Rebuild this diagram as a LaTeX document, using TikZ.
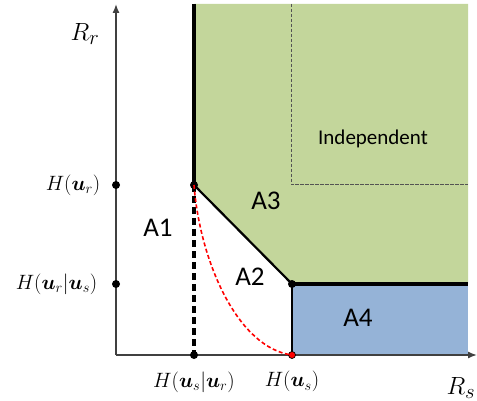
\documentclass[tikz,border=0pt]{standalone}
\usepackage{amsmath}
\usepackage{bm}
\usepackage{fontspec}
\setsansfont{Carlito}
\usetikzlibrary{positioning,arrows.meta}
\definecolor{regiongreen}{RGB}{195,214,155}
\definecolor{regionblue}{RGB}{149,179,215}
\definecolor{axisgray}{RGB}{64,64,64}

\begin{document}
\begin{tikzpicture}[x=1pt,y=-1pt,
	dot/.style={circle,fill=black,inner sep=0pt,minimum size=8pt},
	areatext/.style={font=\sffamily\fontsize{27}{27}\selectfont},
	ticktext/.style={font=\fontsize{21}{21}\selectfont},
	axistext/.style={font=\fontsize{28}{28}\selectfont},
	boundary/.style={line width=3.2pt}]
	\useasboundingbox (0,0) rectangle (477,401);
	%Regions
	\fill[regiongreen] (194,4) -- (468,4) -- (468,284) -- (292,284) -- (194,185) -- cycle;
	\fill[regionblue] (292,284) rectangle (468,355);
	%Independent corner
	\draw[axisgray!90,line width=1pt,dash pattern=on 3.5pt off 1.5pt] (291,4) -- (291,185) -- (468,185);
	%Axes
	\coordinate (O) at (116,355);
	\coordinate (ytop) at (116,4);
	\coordinate (xend) at (477,355);
	\draw[axisgray,line width=1.4pt,-{Latex[length=9pt,width=7pt]}] (O) -- (ytop);
	\draw[axisgray,line width=1.4pt,-{Latex[length=9pt,width=7pt]}] (O) -- (xend);
	%Points
	\node[dot] (Hur) at (116,185) {};
	\node[dot] (Hurs) at (116,284) {};
	\node[dot] (cornerA) at (194,185) {};
	\node[dot] (Husr) at (194,355) {};
	\node[dot] (cornerB) at (292,284) {};
	\coordinate (topA) at (194,4);
	\coordinate (rightB) at (468,284);
	%Boundary of the region
	\draw[boundary] (topA) -- (cornerA.center);
	\draw[line width=2.2pt] (cornerA.center) -- (cornerB.center);
	\draw[boundary] (cornerB.center) -- (rightB);
	\draw[line width=2pt] (cornerB.center) -- (292,355);
	\draw[boundary,dash pattern=on 7pt off 4pt] (cornerA.center) -- (Husr.center);
	%Red curve
	\node[circle,fill=red,draw=black,line width=0.7pt,inner sep=0pt,minimum size=7pt] (Hus) at (292,355) {};
	\draw[red,line width=1.6pt,dash pattern=on 4pt off 2.5pt] (cornerA.center) .. controls (200,262) and (238,348) .. (Hus.center);
	%Labels
	\node[ticktext,left=8pt of Hur] {$H(\bm{u}_r)$};
	\node[ticktext,left=11pt of Hurs] {$H(\bm{u}_r|\bm{u}_s)$};
	\node[ticktext,below=9pt of Husr] {$H(\bm{u}_s|\bm{u}_r)$};
	\node[ticktext,below=9pt of Hus] {$H(\bm{u}_s)$};
	\node[axistext] at (85,34) {$R_r$};
	\node[axistext] at (461,388) {$R_s$};
	\node[areatext] at (158,228) {A1};
	\node[areatext] at (250,277) {A2};
	\node[areatext] at (266,201) {A3};
	\node[areatext] at (358,318) {A4};
	\node[font=\sffamily\fontsize{21}{21}\selectfont] at (373,139) {Independent};
\end{tikzpicture}
\end{document}
